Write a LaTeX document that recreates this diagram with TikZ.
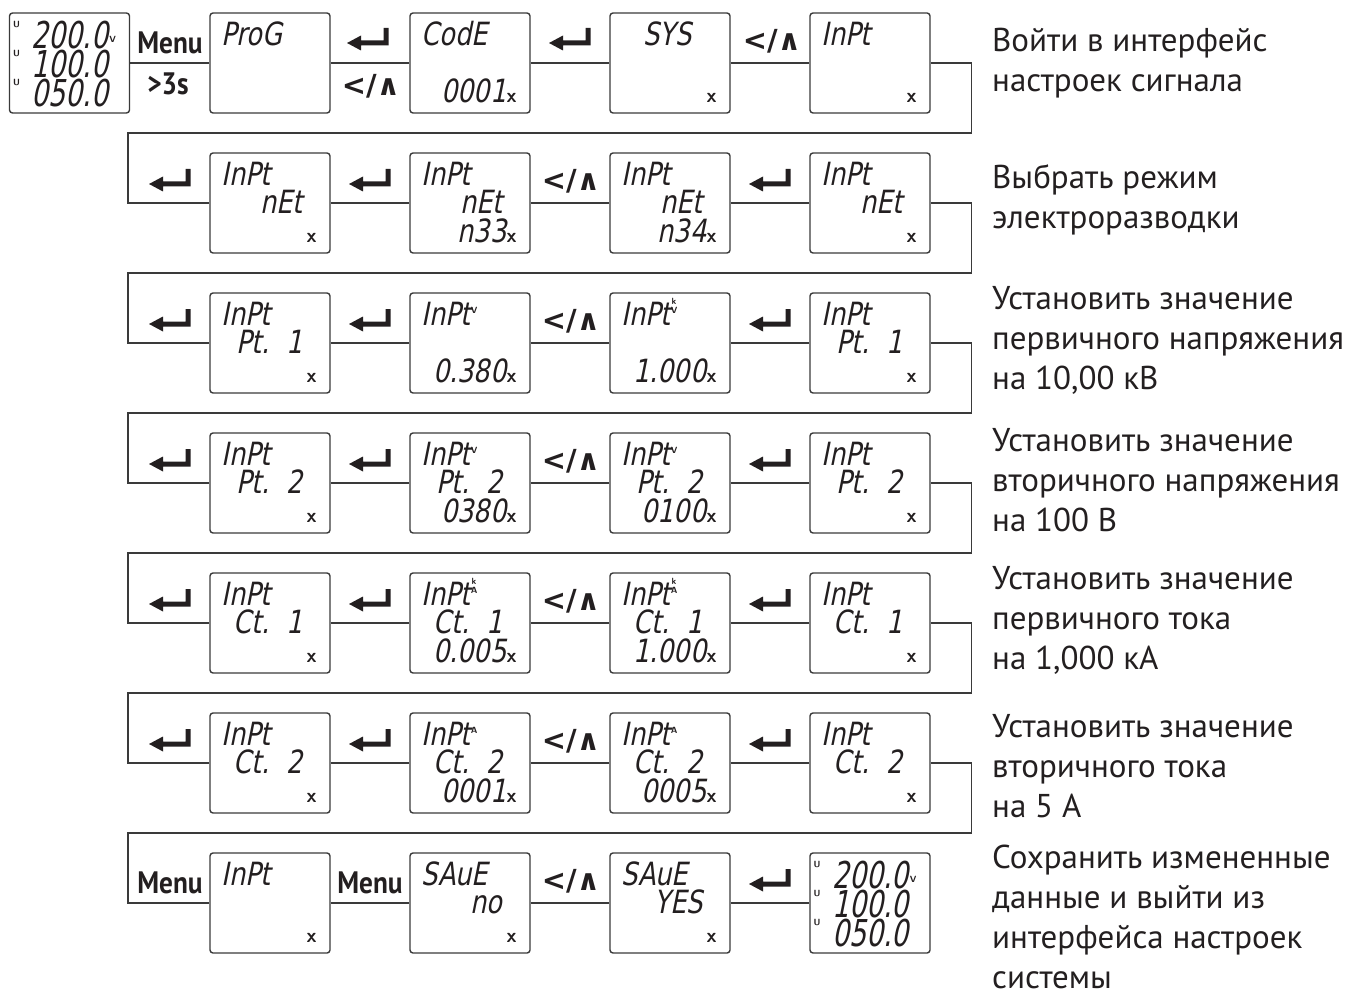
\documentclass[tikz,border=0pt]{standalone}
\usepackage{fontspec}
\usetikzlibrary{positioning, calc}
\newfontfamily\notefont{PT Sans}
\newfontfamily\keyfont[FakeStretch=0.88]{PT Sans}
\newfontfamily\lcdfont[FakeSlant=0.2, FakeStretch=0.8]{DejaVu Sans}
\newfontfamily\lcdbigfont[FakeSlant=0.2, FakeStretch=0.72]{DejaVu Sans}
\newfontfamily\symfont{DejaVu Sans}
\definecolor{lineGray}{HTML}{3A3A3A}
\definecolor{inkDark}{HTML}{231F20}
\tikzset{
  panel/.style={draw=lineGray, line width=1.4pt, rounded corners=3pt, minimum width=120pt,
                minimum height=100pt, inner sep=0pt},
  seg/.style={font=\lcdfont\fontsize{32}{32}\selectfont, text=inkDark, inner sep=0pt},
  segbig/.style={font=\lcdbigfont\fontsize{37}{37}\selectfont, text=inkDark, inner sep=0pt},
  ind/.style={font=\sffamily\bfseries\fontsize{9}{9}\selectfont, text=inkDark, inner sep=0pt},
  wire/.style={draw=lineGray, line width=1.4pt},
  keylbl/.style={font=\keyfont\bfseries\fontsize{31}{31}\selectfont, text=inkDark, inner sep=0pt},
  arrowlbl/.style={font=\symfont\bfseries\fontsize{29}{29}\selectfont, text=inkDark, inner sep=0pt},
  note/.style={font=\notefont\fontsize{33}{40}\selectfont, text=inkDark, align=left,
               anchor=west, inner sep=0pt},
  enterkey/.pic={\fill[inkDark] (20.5,-11) -- (20.5,6.5) -- (-7,6.5) -- (-7,11.5) -- (-21,4)
                 -- (-7,-3.5) -- (-7,1.5) -- (15.5,1.5) -- (15.5,-11) -- cycle;},
}
\newcommand{\xm}{{\sffamily\bfseries\fontsize{20}{20}\selectfont x}}
\newcommand{\um}[1]{\raisebox{12pt}{\sffamily\bfseries\fontsize{9}{8}\selectfont\shortstack{#1}}}
% display panel: name, centre, top line, middle line, bottom line
\newcommand{\lcdbox}[5]{%
  \node[panel] (#1) at #2 {};
  \node[seg, anchor=base west] (#1-1) at ([xshift=12pt, yshift=-33pt]#1.north west) {#3};
  \if\relax\detokenize{#4}\relax\else
    \node[seg, anchor=base east] (#1-2) at ([xshift=-28pt, yshift=-61pt]#1.north east) {#4};
  \fi
  \if\relax\detokenize{#5}\relax\else
    \node[seg, anchor=base east] (#1-3) at ([xshift=-14pt, yshift=-90pt]#1.north east) {#5};
  \fi
}
% measuring screen: name, centre
\newcommand{\meterbox}[2]{%
  \node[panel] (#1) at #2 {};
  \node[segbig, anchor=base east] (#1-1) at ([xshift=-22pt, yshift=-36pt]#1.north east) {200.0};
  \node[segbig, anchor=base east] (#1-2) at ([xshift=-22pt, yshift=-65pt]#1.north east) {100.0};
  \node[segbig, anchor=base east] (#1-3) at ([xshift=-22pt, yshift=-94pt]#1.north east) {050.0};
  \node[ind, anchor=base west] (#1-v) at ([xshift=1pt, yshift=6pt]#1-1.base east) {V};
  \foreach \k in {1,2,3}
    \node[ind, anchor=north west] (#1-u\k) at ($(#1.west |- #1-\k.north)+(4,0)$) {U};
}

\begin{document}
\begin{tikzpicture}[x=1pt, y=-1pt]
  \useasboundingbox (0,0) rectangle (1346,995);
  % row 1: into the signal settings
  \meterbox{m1}{(69.5,63)}
  \lcdbox{p12}{(270,63)}{ProG}{}{}
  \lcdbox{p13}{(470,63)}{CodE}{}{0001\xm}
  \lcdbox{p14}{(670,63)}{\hspace{22pt}SYS}{}{\xm}
  \lcdbox{p15}{(870,63)}{InPt}{}{\xm}
  \draw[wire] (m1) -- (p12) -- (p13) -- (p14) -- (p15);
  \node[keylbl] (k11) at (170,43) {Menu};
  \node[keylbl] (k11b) at (168,84) {>3s};
  \pic at (368,39) {enterkey};
  \node[arrowlbl] (k12b) at (371,86) {</∧};
  \pic at (570,39) {enterkey};
  \node[arrowlbl] (k14) at (772,41) {</∧};
  % row 2: wiring
  \lcdbox{p21}{(270,203)}{InPt}{nEt}{\xm}
  \lcdbox{p22}{(470,203)}{InPt}{nEt}{n33\xm}
  \lcdbox{p23}{(670,203)}{InPt}{nEt}{n34\xm}
  \lcdbox{p24}{(870,203)}{InPt}{nEt}{\xm}
  % row 3: PT primary
  \lcdbox{p31}{(270,343)}{InPt}{Pt.~~1}{\xm}
  \lcdbox{p32}{(470,343)}{InPt\um{V}}{}{0.380\xm}
  \lcdbox{p33}{(670,343)}{InPt\um{k\\V}}{}{1.000\xm}
  \lcdbox{p34}{(870,343)}{InPt}{Pt.~~1}{\xm}
  % row 4: PT secondary
  \lcdbox{p41}{(270,483)}{InPt}{Pt.~~2}{\xm}
  \lcdbox{p42}{(470,483)}{InPt\um{V}}{Pt.~~2}{0380\xm}
  \lcdbox{p43}{(670,483)}{InPt\um{V}}{Pt.~~2}{0100\xm}
  \lcdbox{p44}{(870,483)}{InPt}{Pt.~~2}{\xm}
  % row 5: CT primary
  \lcdbox{p51}{(270,623)}{InPt}{Ct.~~1}{\xm}
  \lcdbox{p52}{(470,623)}{InPt\um{k\\A}}{Ct.~~1}{0.005\xm}
  \lcdbox{p53}{(670,623)}{InPt\um{k\\A}}{Ct.~~1}{1.000\xm}
  \lcdbox{p54}{(870,623)}{InPt}{Ct.~~1}{\xm}
  % row 6: CT secondary
  \lcdbox{p61}{(270,763)}{InPt}{Ct.~~2}{\xm}
  \lcdbox{p62}{(470,763)}{InPt\um{A}}{Ct.~~2}{0001\xm}
  \lcdbox{p63}{(670,763)}{InPt\um{A}}{Ct.~~2}{0005\xm}
  \lcdbox{p64}{(870,763)}{InPt}{Ct.~~2}{\xm}
  \foreach \r in {2,...,6} {
    \draw[wire] (p\r1) -- (p\r2) -- (p\r3) -- (p\r4);
    \pic at (170,63+140*\r-140-23) {enterkey};
    \pic at (370,63+140*\r-140-23) {enterkey};
    \node[arrowlbl] (k\r3) at (571,63+140*\r-140-22) {</∧};
    \pic at (770,63+140*\r-140-23) {enterkey};
  }
  % row 7: save and leave
  \lcdbox{p71}{(270,903)}{InPt}{}{\xm}
  \lcdbox{p72}{(470,903)}{SAuE}{no}{\xm}
  \lcdbox{p73}{(670,903)}{SAuE}{YES}{\xm}
  \meterbox{m2}{(870,903)}
  \draw[wire] (p71) -- (p72) -- (p73) -- (m2);
  \node[keylbl] (k71) at (170,883) {Menu};
  \node[keylbl] (k72) at (370,883) {Menu};
  \node[arrowlbl] (k73) at (571,881) {</∧};
  \pic at (770,880) {enterkey};
  % return loops
  \foreach \a/\b/\y in {p15/p21/133, p24/p31/273, p34/p41/413, p44/p51/553, p54/p61/693, p64/p71/833}
    \draw[wire] (\a.east) -- ++(41,0) |- (128,\y) |- (\b.west);
  % notes
  \node[note] (n1) at (992,63) {Войти в интерфейс\\настроек сигнала};
  \node[note] (n2) at (992,200) {Выбрать режим\\электроразводки};
  \node[note] (n3) at (992,340) {Установить значение\\первичного напряжения\\на 10,00 кВ};
  \node[note] (n4) at (992,480) {Установить значение\\вторичного напряжения\\на 100 В};
  \node[note] (n5) at (992,620) {Установить значение\\первичного тока\\на 1,000 кА};
  \node[note] (n6) at (992,766) {Установить значение\\вторичного тока\\на 5 А};
  \node[note] (n7) at (992,917) {Сохранить измененные\\данные и выйти из\\интерфейса настроек\\системы};
\end{tikzpicture}
\end{document}
